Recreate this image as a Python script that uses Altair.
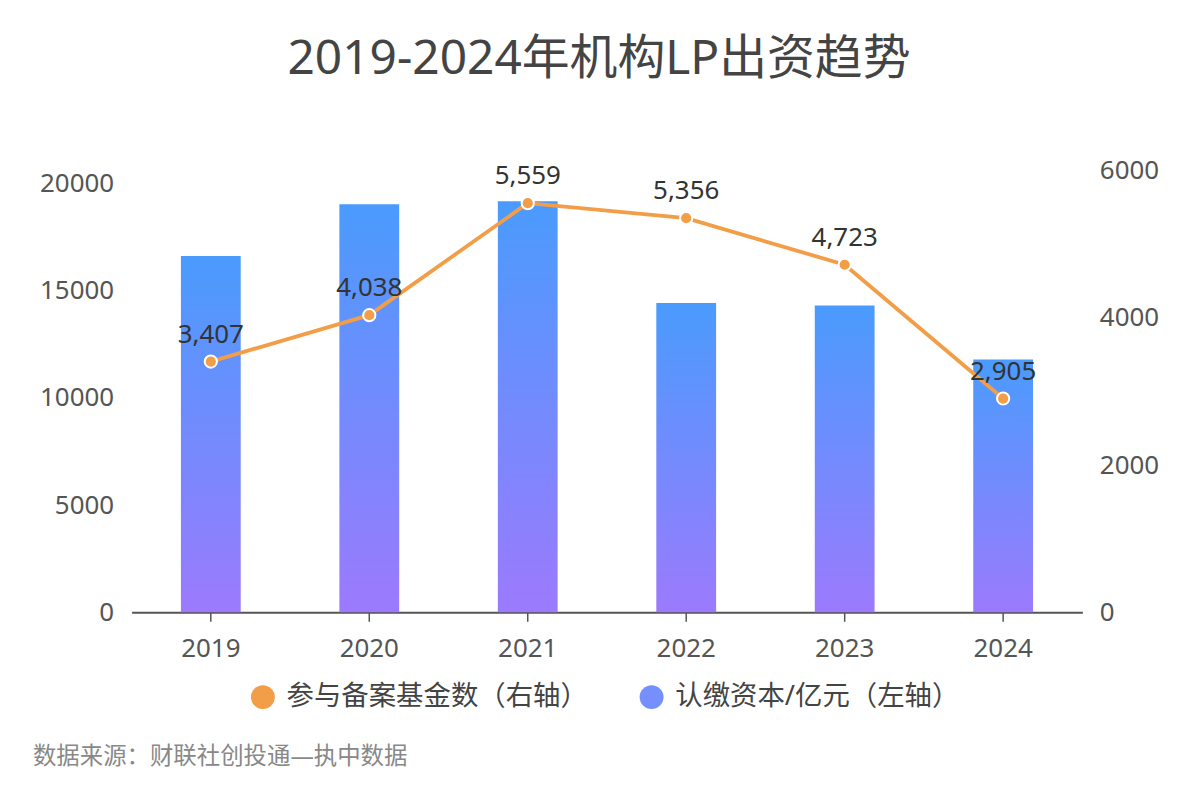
import altair as alt
import pandas as pd

years = ["2019", "2020", "2021", "2022", "2023", "2024"]
capital = [16620, 19040, 19180, 14430, 14310, 11800]   # 认缴资本/亿元（左轴）
funds = [3407, 4038, 5559, 5356, 4723, 2905]           # 参与备案基金数（右轴）
series_names = ["参与备案基金数（右轴）", "认缴资本/亿元（左轴）"]
series_colors = ["#F29E48", "#7590FC"]
left_ticks = [0, 5000, 10000, 15000, 20000]
right_ticks = [0, 2000, 4000, 6000]
title_text = "2019-2024年机构LP出资趋势"
source_text = "数据来源：财联社创投通—执中数据"

FONT = "Noto Sans, Noto Sans CJK SC"

df = pd.DataFrame({"year": years, "capital": capital, "funds": funds})
df["label"] = [f"{v:,}" for v in funds]

x_enc = alt.X("year:N", title=None, sort=years,
              axis=alt.Axis(labelAngle=0, labelFontSize=26, labelColor="#555555",
                            labelFont=FONT, labelPadding=14, domainColor="#555555",
                            domainWidth=2, tickColor="#555555", tickSize=9,
                            tickWidth=1.5, grid=False))

bars = alt.Chart(df).mark_bar(
    size=60,
    fill=alt.Gradient(gradient="linear", x1=0, y1=0, x2=0, y2=1,
                      stops=[alt.GradientStop(color="#4A9BFD", offset=0),
                             alt.GradientStop(color="#9C7AFD", offset=1)])
).encode(
    x=x_enc,
    y=alt.Y("capital:Q", title=None,
            scale=alt.Scale(domain=[0, 20600], nice=False),
            axis=alt.Axis(values=left_ticks, format="d", labelFontSize=26,
                          labelColor="#555555", labelFont=FONT, labelPadding=18,
                          domain=False, ticks=False, grid=False, orient="left"))
)

rscale = alt.Scale(domain=[0, 6000], nice=False)

line = alt.Chart(df).mark_line(color="#F29E48", strokeWidth=3.8).encode(
    x=alt.X("year:N", sort=years),
    y=alt.Y("funds:Q", title=None, scale=rscale,
            axis=alt.Axis(values=right_ticks, format="d", labelFontSize=26,
                          labelColor="#555555", labelFont=FONT, labelPadding=17,
                          domain=False, ticks=False, grid=False, orient="right")))

pts = alt.Chart(df).mark_point(filled=True, fill="#F29E48", stroke="white",
                               strokeWidth=2, size=150, opacity=1).encode(
    x=alt.X("year:N", sort=years), y=alt.Y("funds:Q", scale=rscale))

labels = alt.Chart(df).mark_text(dy=-27, fontSize=26, color="#333333", font=FONT).encode(
    x=alt.X("year:N", sort=years),
    y=alt.Y("funds:Q", scale=rscale),
    text="label:N")

right_layer = alt.layer(line, pts, labels)

legend_df = pd.DataFrame({"series": series_names})
legend_layer = alt.Chart(legend_df).mark_circle(opacity=0).encode(
    color=alt.Color("series:N", sort=series_names,
                    scale=alt.Scale(domain=series_names, range=series_colors),
                    legend=alt.Legend(orient="none", legendX=118, legendY=514,
                                      direction="horizontal", title=None,
                                      symbolType="circle", symbolSize=576,
                                      symbolOpacity=1, symbolStrokeWidth=0,
                                      labelFontSize=27.5, labelColor="#444444",
                                      labelFont=FONT, labelOffset=10,
                                      columnPadding=50, labelLimit=400))
)

source = alt.Chart(pd.DataFrame({"t": [source_text]})).mark_text(
    align="left", baseline="middle", fontSize=23.5, color="#888888", font=FONT
).encode(x=alt.value(-99), y=alt.value(588), text="t:N")

chart = alt.layer(bars, right_layer, legend_layer, source).resolve_scale(
    y="independent"
).properties(
    width=954, height=443,
    autosize=alt.AutoSizeParams(type="none"),
    padding={"left": 124, "top": 162, "right": 110, "bottom": 180},
    view=alt.ViewBackground(stroke="transparent", strokeWidth=0),
    title=alt.TitleParams(title_text, fontSize=48, color="#444444", font=FONT,
                          fontWeight="normal", anchor="middle", offset=74, dx=-8)
).configure_view(strokeWidth=0, stroke="transparent").configure(background="white")

chart.save("out.html", embed_options={"renderer": "svg", "actions": False})
